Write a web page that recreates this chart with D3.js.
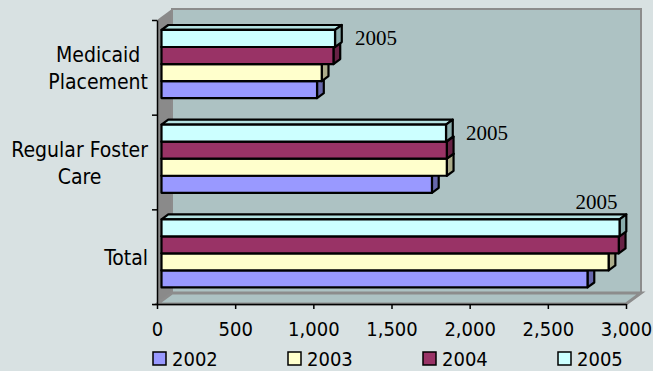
<!DOCTYPE html>
<html>
<head>
<meta charset="utf-8">
<script src="https://cdn.jsdelivr.net/npm/d3@7"></script>
<style>
  body { margin: 0; background: #d8e1e2; }
  svg { display: block; }
</style>
</head>
<body>
<svg width="653" height="371"></svg>
<script>
// categories top to bottom, series in legend order
var categories = [["Medicaid", "Placement"], ["Regular Foster", "Care"], ["Total"]];
var catKeys = ["Medicaid Placement", "Regular Foster Care", "Total"];
var years = ["2002", "2003", "2004", "2005"];
var values = {
    "2002": [995, 1730, 2725],
    "2003": [1025, 1825, 2860],
    "2004": [1100, 1825, 2925],
    "2005": [1110, 1820, 2930]
};
var colors = ["#9999ff", "#ffffcc", "#993366", "#ccffff"];
var xTicks = [0, 500, 1000, 1500, 2000, 2500, 3000];

var svg = d3.select("svg"),
    width = +svg.attr("width"),
    height = +svg.attr("height");

var fontSans = "Tahoma, 'DejaVu Sans Condensed', 'DejaVu Sans', sans-serif";

// front plane of the plot, depth offset goes back up-right
var pLeft = 157, pRight = 626, pTop = 20, pBottom = 304;
var depth = [15, -11];

var x = d3.scaleLinear().domain([0, 3000]).range([pLeft, pRight]);
var y0 = d3.scaleBand().domain(catKeys).range([pTop, pBottom])
    .paddingInner(0.28).paddingOuter(0.14);
var y1 = d3.scaleBand().domain(years.slice().reverse()).range([0, y0.bandwidth()]);
var color = d3.scaleOrdinal().domain(years).range(colors);

// walls
var dx = depth[0], dy = depth[1];
svg.append("polygon")
    .attr("points", [[pLeft, pTop], [pLeft + dx, pTop + dy], [pLeft + dx, pBottom + dy], [pLeft, pBottom]].join(" "))
    .attr("fill", "#8a8a8a");
svg.append("rect")
    .attr("x", pLeft + dx).attr("y", pTop + dy)
    .attr("width", pRight - pLeft).attr("height", pBottom - pTop)
    .attr("fill", "#adc2c3")
    .attr("stroke", "#8c8c8c").attr("stroke-width", 2);
svg.append("polygon")
    .attr("points", [[pLeft, pBottom], [pLeft + dx, pBottom + dy], [pRight + dx, pBottom + dy], [pRight, pBottom]].join(" "))
    .attr("fill", "#adc2c3")
    .attr("stroke", "#8c8c8c").attr("stroke-width", 3);

// bars: front at 0.3 of depth, thickness 0.45 of depth
var bx = dx * 0.3, by = dy * 0.3;
var tx = dx * 0.45, ty = dy * 0.45;

var bars = svg.append("g").attr("stroke", "#000").attr("stroke-width", 2.2)
    .attr("stroke-linejoin", "round");

catKeys.forEach(function(c, ci) {
    years.forEach(function(yr) {
        var v = values[yr][ci];
        var x0 = x(0) + bx, x1 = x(v) + bx;
        var ya = y0(c) + y1(yr) + by, yb = ya + y1.bandwidth();
        var col = d3.color(color(yr));
        var g = bars.append("g");
        g.append("polygon")
            .attr("points", [[x0, ya], [x0 + tx, ya + ty], [x1 + tx, ya + ty], [x1, ya]].join(" "))
            .attr("fill", col.darker(0.35));
        g.append("polygon")
            .attr("points", [[x1, ya], [x1 + tx, ya + ty], [x1 + tx, yb + ty], [x1, yb]].join(" "))
            .attr("fill", col.darker(1.1));
        g.append("rect")
            .attr("x", x0).attr("y", ya)
            .attr("width", x1 - x0).attr("height", yb - ya)
            .attr("fill", col);
    });
    // series label on the 2005 bar
    var v5 = values["2005"][ci];
    var end = x(v5) + bx;
    var yt = y0(c) + y1("2005") + by;
    var lab = svg.append("text")
        .attr("font-family", "'Times New Roman', 'Liberation Serif', serif")
        .attr("font-size", 21)
        .text("2005");
    if (end + 62 < pRight + dx) {
        lab.attr("x", end + 20).attr("y", yt + y1.bandwidth() / 2 + 7);
    } else {
        lab.attr("x", end - 2).attr("y", yt - 10).attr("text-anchor", "end");
    }
});

// x axis
var xAxis = svg.append("g")
    .attr("transform", "translate(0," + pBottom + ")")
    .call(d3.axisBottom(x).tickValues(xTicks).tickSize(5).tickSizeOuter(0).tickFormat(d3.format(",")));
xAxis.select(".domain").attr("stroke", "#000").attr("stroke-width", 1.5);
xAxis.selectAll(".tick line").attr("stroke", "#000").attr("stroke-width", 1.5);
xAxis.selectAll("text")
    .attr("y", 18)
    .attr("font-family", fontSans)
    .attr("font-size", 20)
    .attr("fill", "#000");

// y axis with ticks on category boundaries
var yEdge = d3.scaleLinear().domain([0, 3]).range([pTop, pBottom]);
var yAxis = svg.append("g")
    .attr("transform", "translate(" + pLeft + ",0)")
    .call(d3.axisLeft(yEdge).tickValues([0, 1, 2, 3]).tickSize(5).tickSizeOuter(0).tickFormat(""));
yAxis.select(".domain").attr("stroke", "#000").attr("stroke-width", 1.5);
yAxis.selectAll(".tick line").attr("stroke", "#000").attr("stroke-width", 1.5);

// category labels, block right aligned, lines centred
var lineH = 27, labelRight = 148;
categories.forEach(function(lines, ci) {
    var cy = y0(catKeys[ci]) + y0.bandwidth() / 2;
    var g = svg.append("g")
        .attr("font-family", fontSans)
        .attr("font-size", 21)
        .attr("text-anchor", "middle");
    var t = g.selectAll("text").data(lines).enter().append("text")
        .attr("y", function(d, i) { return cy + 8 + (i - (lines.length - 1) / 2) * lineH; })
        .text(function(d) { return d; });
    var w = d3.max(t.nodes(), function(n) { return n.getComputedTextLength(); });
    t.attr("x", labelRight - w / 2);
});

// legend
var legend = svg.append("g")
    .attr("font-family", fontSans)
    .attr("font-size", 20);
var item = legend.selectAll("g").data(years).enter().append("g")
    .attr("transform", function(d, i) { return "translate(" + (153 + i * 135) + ",352)"; });
item.append("rect")
    .attr("width", 13).attr("height", 13)
    .attr("fill", function(d) { return color(d); })
    .attr("stroke", "#000").attr("stroke-width", 1.5);
item.append("text")
    .attr("x", 19).attr("y", 13.5)
    .text(function(d) { return d; });
</script>
</body>
</html>
